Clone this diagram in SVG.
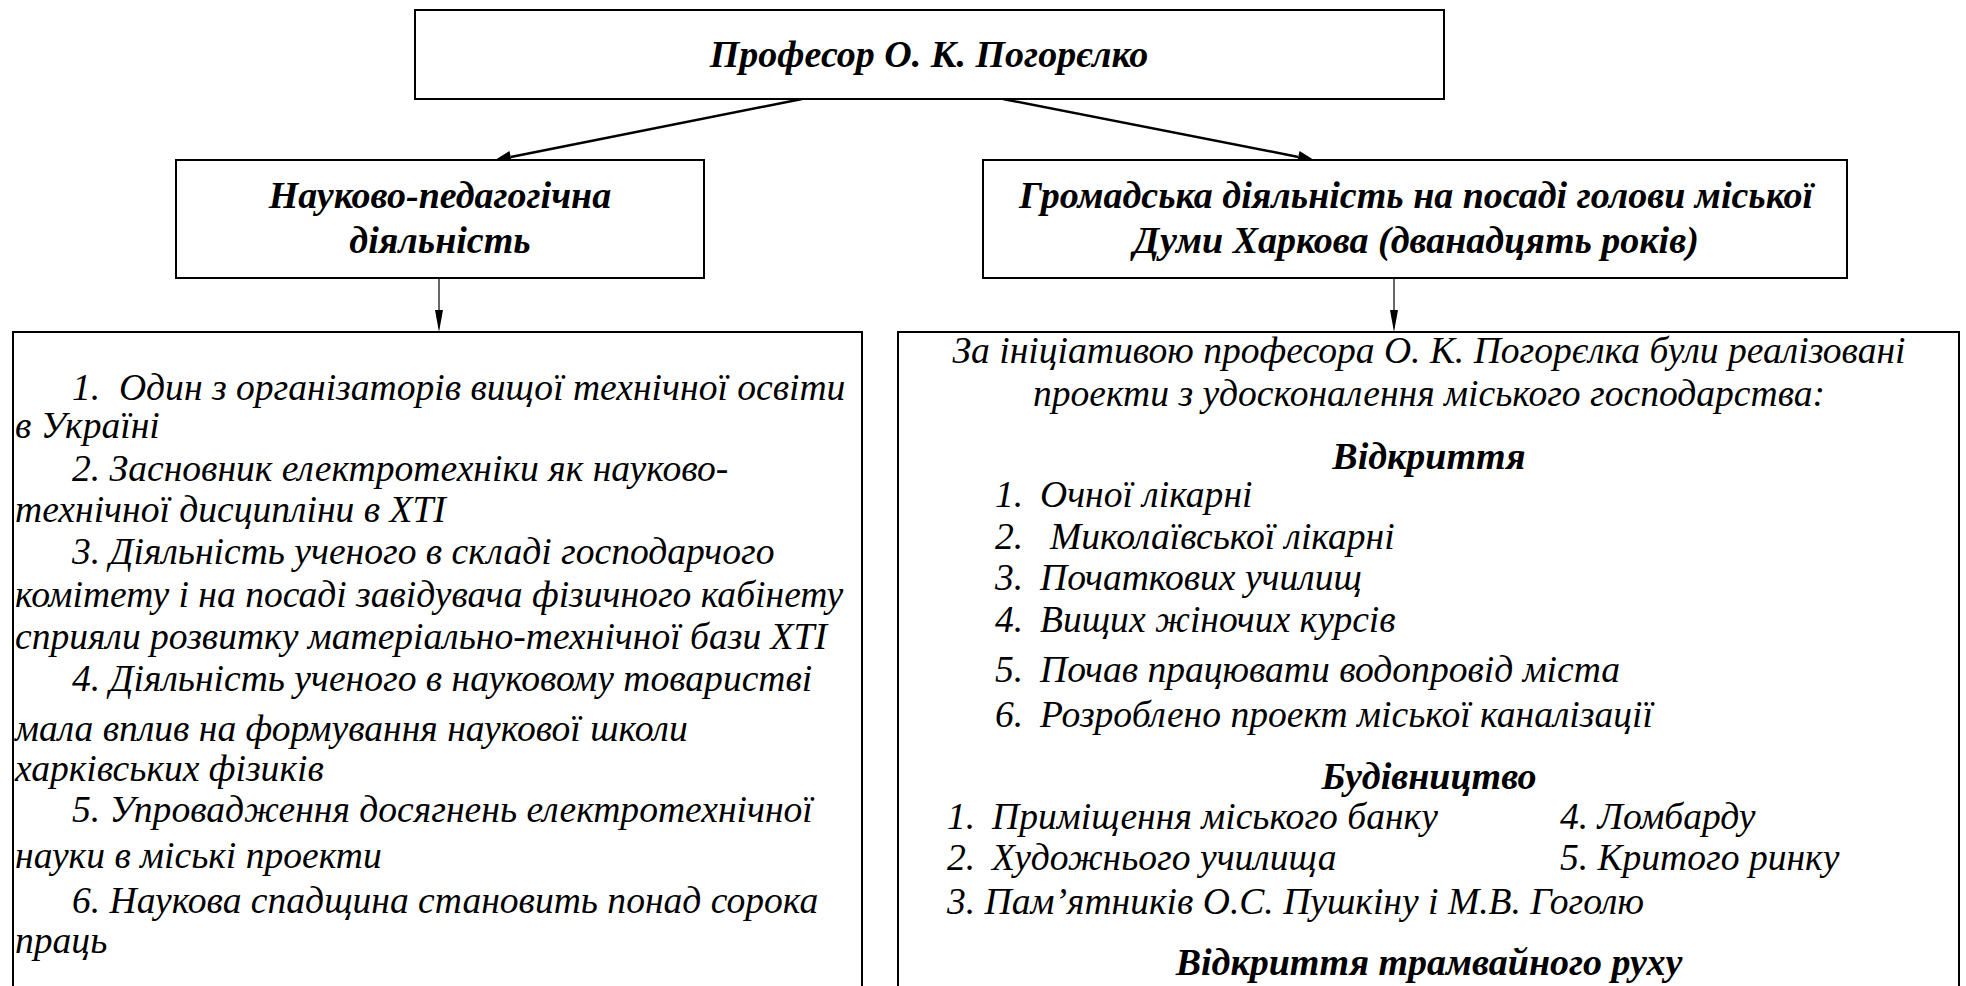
<svg xmlns="http://www.w3.org/2000/svg" width="1966" height="986" viewBox="0 0 1966 986">
<rect width="1966" height="986" fill="#fff"/>
<g id="connectors" stroke="#000">
<line x1="802" y1="99" x2="510.7" y2="156.9" stroke-width="2.5"/>
<polygon points="495,160 511.9,162.8 509.5,151" fill="#000" stroke="none"/>
<line x1="1003" y1="99" x2="1298.3" y2="156.9" stroke-width="2.5"/>
<polygon points="1314,160 1299.5,151 1297.1,162.8" fill="#000" stroke="none"/>
<line x1="439" y1="278" x2="439" y2="312" stroke-width="1.2"/>
<polygon points="435,310 443,310 439,332" fill="#000" stroke="none"/>
<line x1="1394" y1="278" x2="1394" y2="312" stroke-width="1.2"/>
<polygon points="1390,310 1398,310 1394,332" fill="#000" stroke="none"/>
</g>
<g id="node-top">
<rect x="415" y="10" width="1029" height="89" fill="#fff" stroke="#000" stroke-width="2"/>
<text x="929" y="67" font-family="Liberation Serif, serif" font-style="italic" font-weight="bold" font-size="38" text-anchor="middle">Професор О. К. Погорєлко</text>
</g>
<g id="node-science">
<rect x="176" y="160" width="528" height="118" fill="#fff" stroke="#000" stroke-width="2"/>
<g font-family="Liberation Serif, serif" font-style="italic" font-weight="bold" font-size="38" text-anchor="middle">
<text x="440" y="208">Науково-педагогічна</text>
<text x="440" y="253">діяльність</text>
</g>
</g>
<g id="node-public">
<rect x="983" y="160" width="864" height="118" fill="#fff" stroke="#000" stroke-width="2"/>
<g font-family="Liberation Serif, serif" font-style="italic" font-weight="bold" font-size="38" text-anchor="middle">
<text x="1416" y="208">Громадська діяльність на посаді голови міської</text>
<text x="1416" y="253">Думи Харкова (дванадцять років)</text>
</g>
</g>
<g id="node-science-list">
<rect x="13" y="332" width="849" height="680" fill="#fff" stroke="#000" stroke-width="2"/>
<g font-family="Liberation Serif, serif" font-style="italic" font-size="37.6">
<text x="72" y="400">1.&#160; Один з організаторів вищої технічної освіти</text>
<text x="15" y="438">в Україні</text>
<text x="72" y="481">2. Засновник електротехніки як науково-</text>
<text x="15" y="522">технічної дисципліни в ХТІ</text>
<text x="72" y="564">3. Діяльність ученого в складі господарчого</text>
<text x="15" y="607">комітету і на посаді завідувача фізичного кабінету</text>
<text x="15" y="649">сприяли розвитку матеріально-технічної бази ХТІ</text>
<text x="72" y="691">4. Діяльність ученого в науковому товаристві</text>
<text x="15" y="741">мала вплив на формування наукової школи</text>
<text x="15" y="781">харківських фізиків</text>
<text x="72" y="822">5. Упровадження досягнень електротехнічної</text>
<text x="15" y="868">науки в міські проекти</text>
<text x="72" y="913">6. Наукова спадщина становить понад сорока</text>
<text x="15" y="953">праць</text>
</g>
</g>
<g id="node-public-list">
<rect x="898" y="332" width="1061" height="680" fill="#fff" stroke="#000" stroke-width="2"/>
<g font-family="Liberation Serif, serif" font-style="italic" font-size="37.6">
<text x="1429" y="363" text-anchor="middle">За ініціативою професора О. К. Погорєлка були реалізовані</text>
<text x="1429" y="406" text-anchor="middle">проекти з удосконалення міського господарства:</text>
<text x="1429" y="469" text-anchor="middle" font-weight="bold" font-size="38">Відкриття</text>
<text x="995" y="507">1.</text>
<text x="1040" y="507">Очної лікарні</text>
<text x="995" y="549">2.</text>
<text x="1050" y="549">Миколаївської лікарні</text>
<text x="995" y="590">3.</text>
<text x="1040" y="590">Початкових училищ</text>
<text x="995" y="632">4.</text>
<text x="1040" y="632">Вищих жіночих курсів</text>
<text x="995" y="682">5.</text>
<text x="1040" y="682">Почав працювати водопровід міста</text>
<text x="995" y="727">6.</text>
<text x="1040" y="727">Розроблено проект міської каналізації</text>
<text x="1429" y="789" text-anchor="middle" font-weight="bold" font-size="38">Будівництво</text>
<text x="947" y="829">1.</text>
<text x="992" y="829">Приміщення міського банку</text>
<text x="1560" y="829">4. Ломбарду</text>
<text x="947" y="870">2.</text>
<text x="992" y="870">Художнього училища</text>
<text x="1560" y="870">5. Критого ринку</text>
<text x="947" y="914">3. Пам’ятників О.С. Пушкіну і М.В. Гоголю</text>
<text x="1429" y="975" text-anchor="middle" font-weight="bold" font-size="38">Відкриття трамвайного руху</text>
</g>
</g>
</svg>
